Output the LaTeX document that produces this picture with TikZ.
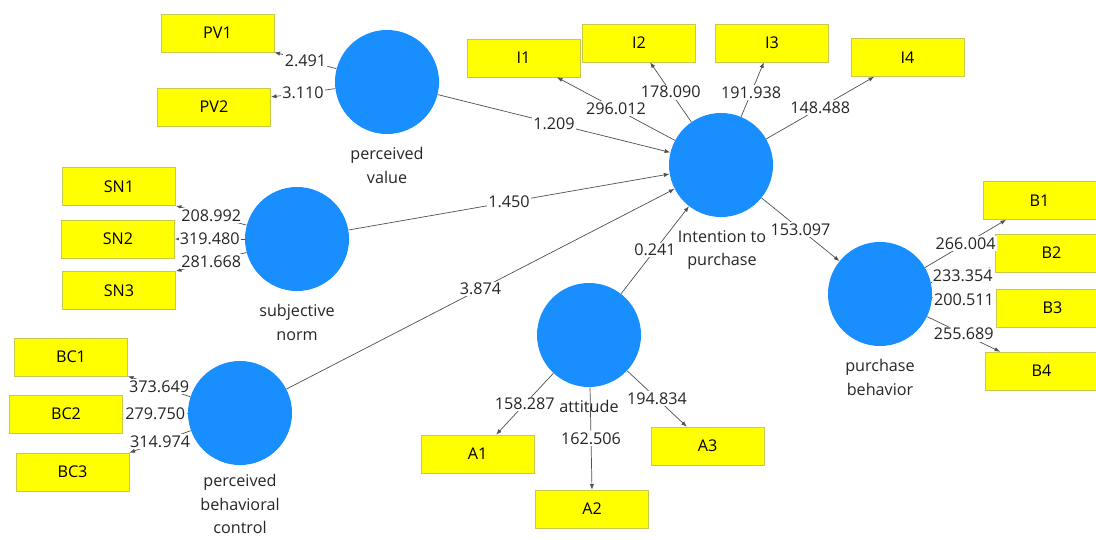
\documentclass[tikz,border=0pt]{standalone}
\usepackage{fontspec}
\setmainfont{Open Sans}
\usetikzlibrary{arrows.meta}
\definecolor{lvblue}{RGB}{24,142,255}
\definecolor{mvyellow}{RGB}{255,255,0}
\definecolor{mvborder}{RGB}{200,200,80}
\definecolor{linkgray}{RGB}{80,80,80}
\begin{document}
\begin{tikzpicture}[x=0.025cm, y=-0.025cm, >={Latex[length=4pt,width=3pt]},
    font=\fontsize{11.5}{17}\selectfont,
    lv/.style={circle, fill=lvblue, minimum size=2.6cm, inner sep=0pt},
    mv/.style={rectangle, draw=mvborder, fill=mvyellow, minimum width=2.83cm, minimum height=0.95cm, inner sep=0pt},
    lvname/.style={align=center, text=black!85},
    lbl/.style={fill=white, inner sep=1pt, text=black!85},
    link/.style={->, draw=linkgray, line width=0.5pt}]
    \useasboundingbox (0,0) rectangle (1096,539);

    % 1. Latent variables
    \node[lv] (pv) at (387,82) {};
    \node[lv] (int) at (721,165) {};
    \node[lv] (sn) at (297,239) {};
    \node[lv] (bc) at (240,413) {};
    \node[lv] (att) at (589,335) {};
    \node[lv] (pb) at (880,294) {};

    \node[lvname] (pvname) at (387,165) {perceived\\value};
    \node[lvname] (intname) at (722,250) {Intention to\\purchase};
    \node[lvname] (snname) at (297,322) {subjective\\norm};
    \node[lvname] (bcname) at (240,504) {perceived\\behavioral\\control};
    \node[lvname] (attname) at (589,406) {attitude};
    \node[lvname] (pbname) at (880,377) {purchase\\behavior};

    % 2. Indicators
    \node[mv] (pv1) at (217.5,33) {PV1};
    \node[mv] (pv2) at (214,107) {PV2};
    \node[mv] (i1) at (523.5,58) {I1};
    \node[mv] (i2) at (639,43) {I2};
    \node[mv] (i3) at (772,43) {I3};
    \node[mv] (i4) at (907.5,57.5) {I4};
    \node[mv] (sn1) at (119,186.5) {SN1};
    \node[mv] (sn2) at (118,239) {SN2};
    \node[mv] (sn3) at (119,290.5) {SN3};
    \node[mv] (bc1) at (71,357) {BC1};
    \node[mv] (bc2) at (66,414) {BC2};
    \node[mv] (bc3) at (72.5,472) {BC3};
    \node[mv] (a1) at (477.5,454) {A1};
    \node[mv] (a2) at (592,509) {A2};
    \node[mv] (a3) at (707.5,446) {A3};
    \node[mv] (b1) at (1039.5,200.5) {B1};
    \node[mv] (b2) at (1051.5,253) {B2};
    \node[mv] (b3) at (1052.5,308) {B3};
    \node[mv] (b4) at (1041.5,371) {B4};

    % 3. Inner model
    \draw[link] (pv) -- node[lbl] (t1) {1.209} (int);
    \draw[link] (sn) -- node[lbl] (t2) {1.450} (int);
    \draw[link] (bc) -- node[lbl] (t3) {3.874} (int);
    \draw[link] (att) -- node[lbl] (t4) {0.241} (int);
    \draw[link] (int) -- node[lbl] (t5) {153.097} (pb);

    % 4. Outer model
    \draw[link] (pv) -- node[lbl] (l1) {2.491} (pv1.south east);
    \draw[link] (pv) -- node[lbl] (l2) {3.110} (pv2.10);
    \draw[link] (int) -- node[lbl] (l3) {296.012} (i1.-30);
    \draw[link] (int) -- node[lbl] (l4) {178.090} (i2.-60);
    \draw[link] (int) -- node[lbl, pos=0.44] (l5) {191.938} (i3.-113);
    \draw[link] (int) -- node[lbl] (l6) {148.488} (i4.-150);
    \draw[link] (sn) -- node[lbl] (l7) {208.992} (sn1.south east);
    \draw[link] (sn) -- node[lbl] (l8) {319.480} (sn2.east);
    \draw[link] (sn) -- node[lbl] (l9) {281.668} (sn3.north east);
    \draw[link] (bc) -- node[lbl] (l10) {373.649} (bc1.south east);
    \draw[link] (bc) -- node[lbl] (l11) {279.750} (bc2.east);
    \draw[link] (bc) -- node[lbl] (l12) {314.974} (bc3.north east);
    \draw[link] (att) -- node[lbl] (l13) {158.287} (a1.46);
    \draw[link] (att) -- node[lbl] (l14) {162.506} (a2.north);
    \draw[link] (att) -- node[lbl] (l15) {194.834} (a3.137);
    \draw[link] (pb) -- node[lbl] (l16) {266.004} (b1.-150);
    \draw[link] (pb) -- node[lbl] (l17) {233.354} (b2.-165);
    \draw[link] (pb) -- node[lbl] (l18) {200.511} (b3.174);
    \draw[link] (pb) -- node[lbl] (l19) {255.689} (b4.155);
\end{tikzpicture}
\end{document}
